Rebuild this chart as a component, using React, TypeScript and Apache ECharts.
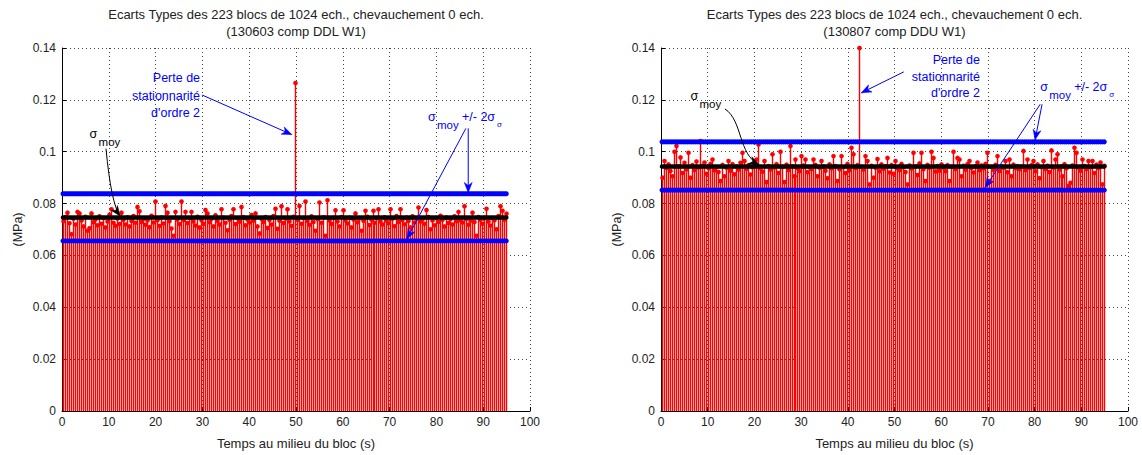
import React, { useEffect, useRef } from "react";
import * as echarts from "echarts";

const FONT = "'Liberation Sans', Arial, sans-serif";

const TITLE_LINE_1 = "Ecarts Types des 223 blocs de 1024 ech., chevauchement 0 ech.";
const SUBTITLE_LEFT = "(130603 comp DDL W1)";
const SUBTITLE_RIGHT = "(130807 comp DDU W1)";
const X_NAME = "Temps au milieu du bloc (s)";
const Y_NAME = "(MPa)";
const PERTE_LINES = ["Perte de", "stationnarité", "d'ordre 2"];

const BLOCK_SAMPLES = 1024;
const SAMPLE_RATE = 2400;

const X_MIN = 0;
const X_MAX = 100;
const X_STEP = 10;
const Y_MIN = 0;
const Y_MAX = 0.14;
const Y_STEP = 0.02;

// Left chart (130603 comp DDL W1)
const LEFT_STD = [
  0.0732, 0.0748, 0.0765, 0.0724, 0.0682, 0.0741, 0.0719, 0.0768, 0.0762, 0.0735,
  0.0712, 0.0749, 0.0695, 0.0705, 0.0762, 0.0728, 0.0739, 0.0716, 0.0751, 0.0722,
  0.0744, 0.0708, 0.0731, 0.0757, 0.0778, 0.0726, 0.0714, 0.0742, 0.0721, 0.0765,
  0.0738, 0.0719, 0.0747, 0.0712, 0.0733, 0.0752, 0.0726, 0.0787, 0.0770, 0.0729,
  0.0741, 0.0718, 0.0735, 0.0709, 0.0753, 0.0727, 0.0808, 0.0736, 0.0714, 0.0746,
  0.0723, 0.0791, 0.0765, 0.0732, 0.0704, 0.0676, 0.0768, 0.0739, 0.0721, 0.0808,
  0.0737, 0.0768, 0.0725, 0.0744, 0.0768, 0.0731, 0.0715, 0.0749, 0.0708, 0.0736,
  0.0722, 0.0775, 0.0762, 0.0728, 0.0741, 0.0712, 0.0755, 0.0733, 0.0719, 0.0778,
  0.0745, 0.0726, 0.0697, 0.0738, 0.0752, 0.0778, 0.0721, 0.0743, 0.0730, 0.0787,
  0.0747, 0.0716, 0.0739, 0.0727, 0.0756, 0.0734, 0.0762, 0.0712, 0.0685, 0.0741,
  0.0729, 0.0748, 0.0706, 0.0737, 0.0719, 0.0752, 0.0780, 0.0703, 0.0734, 0.0790,
  0.0725, 0.0742, 0.0778, 0.0731, 0.0714, 0.0749, 0.1265, 0.0738, 0.0791, 0.0722,
  0.0744, 0.0808, 0.0733, 0.0718, 0.0751, 0.0729, 0.0695, 0.0740, 0.0804, 0.0726,
  0.0747, 0.0676, 0.0813, 0.0735, 0.0721, 0.0745, 0.0774, 0.0731, 0.0712, 0.0748,
  0.0774, 0.0736, 0.0723, 0.0745, 0.0708, 0.0739, 0.0762, 0.0728, 0.0743, 0.0695,
  0.0734, 0.0772, 0.0749, 0.0717, 0.0738, 0.0772, 0.0726, 0.0744, 0.0778, 0.0731,
  0.0719, 0.0747, 0.0735, 0.0724, 0.0778, 0.0741, 0.0713, 0.0752, 0.0729, 0.0778,
  0.0737, 0.0720, 0.0746, 0.0733, 0.0708, 0.0751, 0.0727, 0.0742, 0.0785, 0.0731,
  0.0739, 0.0722, 0.0775, 0.0748, 0.0701, 0.0735, 0.0716, 0.0744, 0.0729, 0.0753,
  0.0738, 0.0712, 0.0746, 0.0725, 0.0740, 0.0719, 0.0751, 0.0732, 0.0768, 0.0736,
  0.0727, 0.0790, 0.0741, 0.0718, 0.0734, 0.0765, 0.0729, 0.0676, 0.0748, 0.0738,
  0.0722, 0.0745, 0.0780, 0.0731, 0.0715, 0.0743, 0.0736, 0.0701, 0.0752, 0.0790,
  0.0772, 0.0738, 0.0761,
];
const LEFT_MEAN = 0.0746;
const LEFT_UPPER = 0.0838;
const LEFT_LOWER = 0.0656;

// Right chart (130807 comp DDU W1)
const RIGHT_STD = [
  0.0900, 0.0964, 0.0937, 0.0951, 0.0926, 0.0905, 0.1000, 0.1022, 0.0944, 0.0978,
  0.0918, 0.0957, 0.0932, 0.0996, 0.0900, 0.0948, 0.0929, 0.0962, 0.0939, 0.1041,
  0.0946, 0.0958, 0.0915, 0.0936, 0.0953, 0.0970, 0.0928, 0.0941, 0.0922, 0.0887,
  0.0949, 0.0905, 0.0938, 0.0964, 0.0927, 0.0952, 0.0913, 0.0943, 0.0931, 0.0957,
  0.0996, 0.0964, 0.0934, 0.0948, 0.0912, 0.0940, 0.0955, 0.0970, 0.1028, 0.0936,
  0.0923, 0.0964, 0.0883, 0.0945, 0.0931, 0.0990, 0.0939, 0.0952, 0.0918, 0.1000,
  0.0942, 0.0883, 0.0950, 0.0929, 0.1022, 0.0944, 0.0905, 0.0970, 0.0937, 0.0925,
  0.0983, 0.0947, 0.0970, 0.0921, 0.0940, 0.0933, 0.0970, 0.0949, 0.0905, 0.0938,
  0.0964, 0.0943, 0.0927, 0.0898, 0.0951, 0.0936, 0.0983, 0.0945, 0.0887, 0.0932,
  0.0983, 0.0940, 0.0918, 0.0953, 0.0929, 0.1015, 0.0990, 0.0937, 0.0948, 0.1400,
  0.0942, 0.0931, 0.0983, 0.0964, 0.0874, 0.0946, 0.0900, 0.0938, 0.0972, 0.0925,
  0.0951, 0.0934, 0.0944, 0.0976, 0.0920, 0.0948, 0.0915, 0.0964, 0.0936, 0.0929,
  0.0953, 0.0940, 0.0922, 0.0874, 0.0947, 0.0935, 0.0996, 0.0943, 0.0910, 0.0955,
  0.0996, 0.0932, 0.0887, 0.0949, 0.0938, 0.1000, 0.0976, 0.0924, 0.0945, 0.0927,
  0.0951, 0.0939, 0.0925, 0.0948, 0.0887, 0.0942, 0.1000, 0.0933, 0.0976, 0.0970,
  0.0905, 0.0946, 0.0930, 0.0952, 0.0964, 0.0937, 0.0920, 0.0944, 0.0958, 0.0928,
  0.0947, 0.0935, 0.0953, 0.0996, 0.0887, 0.0941, 0.0930, 0.0949, 0.0983, 0.0926,
  0.0944, 0.0938, 0.0964, 0.0921, 0.0970, 0.0905, 0.0950, 0.0936, 0.0945, 0.0932,
  0.0943, 0.1003, 0.0928, 0.0970, 0.0937, 0.0948, 0.0964, 0.0925, 0.0951, 0.0898,
  0.0940, 0.0964, 0.0933, 0.0946, 0.0922, 0.1005, 0.0939, 0.0970, 0.0990, 0.0931,
  0.0944, 0.0905, 0.0952, 0.0936, 0.0868, 0.0880, 0.0947, 0.1015, 0.0996, 0.0939,
  0.0927, 0.0970, 0.0945, 0.0933, 0.0964, 0.0940, 0.0964, 0.0918, 0.0950, 0.0937,
  0.0958, 0.0874, 0.0946,
];
const RIGHT_MEAN = 0.0943;
const RIGHT_UPPER = 0.1038;
const RIGHT_LOWER = 0.0852;

const PANELS = [
  { subtitle: SUBTITLE_LEFT, values: LEFT_STD, mean: LEFT_MEAN, upper: LEFT_UPPER, lower: LEFT_LOWER, grid: { left: 62, top: 48, width: 468, height: 364 } },
  { subtitle: SUBTITLE_RIGHT, values: RIGHT_STD, mean: RIGHT_MEAN, upper: RIGHT_UPPER, lower: RIGHT_LOWER, grid: { left: 661, top: 48, width: 467, height: 364 } },
];

// annotation anchors in data coordinates [time (s), MPa]
const ANNOTATIONS = [
  {
    perteRight: 29.5, perteY: [0.1285, 0.1215, 0.1148],
    perteArrow: [[29.9, 0.1219], [49.1, 0.1066]],
    sigmaBlue: [78.2, 0.1135],
    blueArrows: [[[86.8, 0.1090], [86.8, 0.0843]], [[86.3, 0.1090], [73.7, 0.0664]]],
    sigmaBlack: [5.9, 0.1068],
    blackArrow: [[9.4, 0.1012], [12.4, 0.0752]], blackCtrl: [[10.5, 0.080]],
  },
  {
    perteRight: 68.3, perteY: [0.1354, 0.1288, 0.1225],
    perteArrow: [[52.0, 0.1308], [42.9, 0.1227]],
    sigmaBlue: [81.2, 0.1250],
    blueArrows: [[[81.6, 0.1183], [80.1, 0.1046]], [[81.2, 0.1183], [69.4, 0.0862]]],
    sigmaBlack: [6.3, 0.1214],
    blackArrow: [[13.7, 0.1165], [21.0, 0.0950]], blackCtrl: [[17.5, 0.1120], [16.5, 0.0990]],
  },
];

const blockTimes = (n: number) =>
  Array.from({ length: n }, (_, i) => ((i + 0.5) * BLOCK_SAMPLES) / SAMPLE_RATE);

function stemRender(params: any, api: any) {
  const x = api.value(0);
  const y = api.value(1);
  const p0 = api.coord([x, 0]);
  const p1 = api.coord([x, y]);
  const sx = Math.round(p0[0]) + 0.5;
  return {
    type: "group",
    children: [
      { type: "line", shape: { x1: sx, y1: p0[1], x2: sx, y2: p1[1] }, style: { stroke: "#ff0000", lineWidth: 1.4 } },
      { type: "circle", shape: { cx: sx, cy: p1[1], r: 2.3 }, style: { fill: "#ff0000" } },
    ],
  };
}

function txt(x: number, y: number, text: string, color: string, size: number, align = "left") {
  return {
    type: "text",
    x,
    y,
    silent: true,
    z: 100,
    style: { text, fill: color, fontSize: size, fontFamily: FONT, align, verticalAlign: "middle" },
  };
}

function arrow(p0: number[], p1: number[], color: string, ctrl?: number[][]) {
  const els: any[] = [];
  let from = p0;
  if (ctrl && ctrl.length) {
    const shape: any = { x1: p0[0], y1: p0[1], x2: p1[0], y2: p1[1], cpx1: ctrl[0][0], cpy1: ctrl[0][1] };
    if (ctrl.length > 1) {
      shape.cpx2 = ctrl[1][0];
      shape.cpy2 = ctrl[1][1];
    }
    els.push({ type: "bezierCurve", shape, silent: true, z: 100, style: { stroke: color, lineWidth: 1, fill: "none" } });
    from = ctrl[ctrl.length - 1];
  } else {
    els.push({ type: "line", shape: { x1: p0[0], y1: p0[1], x2: p1[0], y2: p1[1] }, silent: true, z: 100, style: { stroke: color, lineWidth: 1 } });
  }
  const ang = Math.atan2(p1[1] - from[1], p1[0] - from[0]);
  const L = 10;
  const W = 4;
  const c = Math.cos(ang);
  const s = Math.sin(ang);
  const bx = p1[0] - L * c;
  const by = p1[1] - L * s;
  const nx = p1[0] - L * 0.7 * c;
  const ny = p1[1] - L * 0.7 * s;
  els.push({
    type: "polygon",
    silent: true,
    z: 101,
    shape: { points: [[p1[0], p1[1]], [bx + W * s, by - W * c], [nx, ny], [bx - W * s, by + W * c]] },
    style: { fill: color, stroke: color, lineWidth: 0.5 },
  });
  return els;
}

export default function App() {
  const ref = useRef<HTMLDivElement>(null);

  useEffect(() => {
    if (!ref.current) return;
    const chart = echarts.init(ref.current, null, { renderer: "svg" });

    const xAxes: any[] = [];
    const yAxes: any[] = [];
    const series: any[] = [];

    PANELS.forEach((p, g) => {
      const times = blockTimes(p.values.length);
      xAxes.push({
        type: "value",
        gridIndex: g,
        min: X_MIN,
        max: X_MAX,
        interval: X_STEP,
        name: X_NAME,
        nameLocation: "middle",
        nameGap: 26,
        nameTextStyle: { fontSize: 13, color: "#222", fontFamily: FONT },
        axisLine: { show: true, onZero: false, lineStyle: { color: "#000", width: 1 } },
        axisTick: { show: true, inside: true, length: 4, lineStyle: { color: "#000" } },
        axisLabel: { fontSize: 12, color: "#222", fontFamily: FONT, margin: 5 },
        splitLine: { show: true, lineStyle: { color: "#444", width: 1, type: [1, 3] } },
      });
      yAxes.push({
        type: "value",
        gridIndex: g,
        min: Y_MIN,
        max: Y_MAX,
        interval: Y_STEP,
        name: Y_NAME,
        nameLocation: "middle",
        nameGap: 38,
        nameRotate: 90,
        nameTextStyle: { fontSize: 12.5, color: "#222", fontFamily: FONT },
        axisLine: { show: true, lineStyle: { color: "#000", width: 1 } },
        axisTick: { show: true, inside: true, length: 4, lineStyle: { color: "#000" } },
        axisLabel: { fontSize: 12, color: "#222", fontFamily: FONT, margin: 6 },
        splitLine: { show: true, lineStyle: { color: "#444", width: 1, type: [1, 3] } },
      });
      series.push({
        type: "custom",
        xAxisIndex: g,
        yAxisIndex: g,
        renderItem: stemRender,
        data: times.map((t, i) => [t, p.values[i]]),
        silent: true,
        z: 2,
      });
      const levelLine = (value: number, color: string, width: number, size: number, z: number) => ({
        type: "line",
        xAxisIndex: g,
        yAxisIndex: g,
        data: times.map((t) => [t, value]),
        symbol: "circle",
        symbolSize: size,
        showSymbol: true,
        showAllSymbol: true,
        lineStyle: { color, width },
        itemStyle: { color },
        silent: true,
        z,
      });
      series.push(levelLine(p.mean, "#000000", 2, 4.5, 3));
      series.push(levelLine(p.upper, "#0000ff", 2.5, 5, 4));
      series.push(levelLine(p.lower, "#0000ff", 2.5, 5, 4));
    });

    chart.setOption({
      animation: false,
      backgroundColor: "#ffffff",
      grid: PANELS.map((p) => ({ ...p.grid, containLabel: false })),
      xAxis: xAxes,
      yAxis: yAxes,
      series,
    });

    const graphic: any[] = [];
    PANELS.forEach((p, g) => {
      const cx = p.grid.left + p.grid.width / 2;
      graphic.push(txt(cx, 14, TITLE_LINE_1, "#222", 13, "center"));
      graphic.push(txt(cx, 31, p.subtitle, "#222", 13, "center"));

      const a = ANNOTATIONS[g];
      const px = (d: number[]) => chart.convertToPixel({ gridIndex: g } as any, d) as number[];

      a.perteY.forEach((v, k) => {
        const pt = px([a.perteRight, v]);
        graphic.push(txt(pt[0], pt[1], PERTE_LINES[k], "#0000ff", 12.5, "right"));
      });
      graphic.push(...arrow(px(a.perteArrow[0]), px(a.perteArrow[1]), "#0000ff"));

      const sb = px(a.sigmaBlue);
      graphic.push(txt(sb[0], sb[1], "σ", "#0000ff", 12.5));
      graphic.push(txt(sb[0] + 9, sb[1] + 8, "moy", "#0000ff", 11.5));
      graphic.push(txt(sb[0] + 34, sb[1], "+/- 2σ", "#0000ff", 12.5));
      graphic.push(txt(sb[0] + 69, sb[1] + 8, "σ", "#0000ff", 8));
      a.blueArrows.forEach((ar) => graphic.push(...arrow(px(ar[0]), px(ar[1]), "#0000ff")));

      const sk = px(a.sigmaBlack);
      graphic.push(txt(sk[0], sk[1], "σ", "#000", 12.5));
      graphic.push(txt(sk[0] + 9, sk[1] + 8, "moy", "#000", 11.5));
      graphic.push(...arrow(px(a.blackArrow[0]), px(a.blackArrow[1]), "#000", a.blackCtrl.map(px)));
    });

    chart.setOption({ graphic });

    return () => chart.dispose();
  }, []);

  return (
    <div
      ref={ref}
      style={{ position: "absolute", left: 0, top: 0, width: 1142, height: 455, background: "#fff" }}
    />
  );
}
